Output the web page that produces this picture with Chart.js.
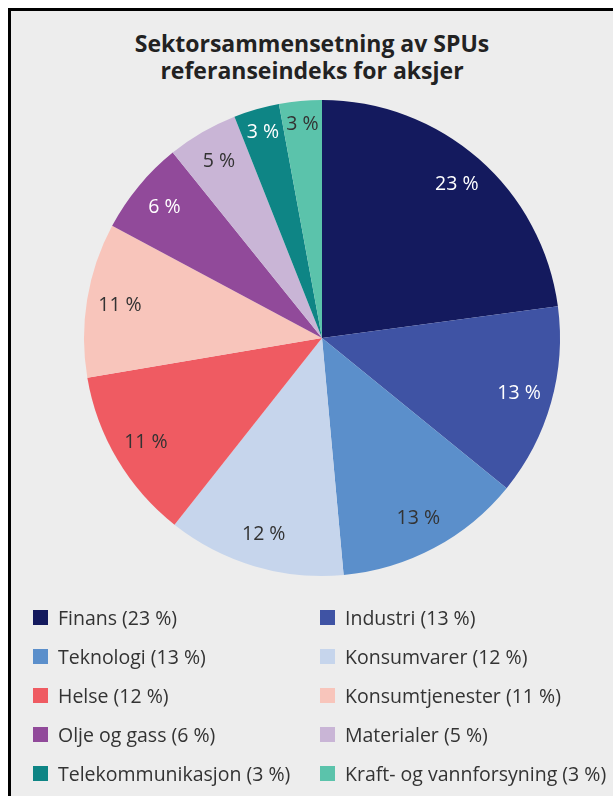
<!DOCTYPE html>
<html lang="no">
<head>
<meta charset="utf-8">
<script src="https://cdn.jsdelivr.net/npm/chart.js@4"></script>
<style>
  html, body { margin: 0; padding: 0; background: #ffffff; }
  body { width: 613px; height: 796px; position: relative; overflow: hidden; font-family: "Open Sans", sans-serif; }
  #frame {
    position: absolute; left: 8px; top: 8px; width: 605px; height: 788px;
    border-left: 3px solid #000; border-top: 3px solid #000;
    background: #ededed; box-sizing: border-box;
  }
  #title {
    position: absolute; left: 0; top: 30px; width: 624px; text-align: center;
    font-size: 23px; font-weight: bold; line-height: 27px; color: #222;
  }
  #chart { position: absolute; left: 0; top: 0; }
  #legend {
    position: absolute; left: 33px; top: 598px; width: 580px;
    display: grid; grid-template-columns: 287px 293px;
  }
  .item { display: flex; align-items: center; height: 39px; font-size: 19.5px; color: #333; white-space: nowrap; }
  .box { width: 15px; height: 15px; margin-right: 10px; flex: none; }
</style>
</head>
<body>
<div id="frame"></div>
<div id="title">Sektorsammensetning av SPUs<br>referanseindeks for aksjer</div>
<canvas id="chart" width="613" height="796"></canvas>
<div id="legend"></div>
<script>
// Sektorer og andeler (lest av figuren)
const sectors = ['Finans', 'Industri', 'Teknologi', 'Konsumvarer', 'Helse',
                 'Konsumtjenester', 'Olje og gass', 'Materialer', 'Telekommunikasjon', 'Kraft- og vannforsyning'];
const shares = [22.9, 13.0, 12.7, 12.1, 11.7, 10.5, 6.4, 4.8, 3.1, 2.9];
const sliceLabels = ['23 %', '13 %', '13 %', '12 %', '11 %', '11 %', '6 %', '5 %', '3 %', '3 %'];
const legendValues = ['23 %', '13 %', '13 %', '12 %', '12 %', '11 %', '6 %', '5 %', '3 %', '3 %'];
const colors = ['#141a5e', '#3f53a4', '#5b8fcb', '#c6d5ec', '#ef5b62',
                '#f8c5bb', '#914a9a', '#c9b5d6', '#0e8585', '#5bc3ab'];
const labelColors = ['#fff', '#fff', '#333', '#333', '#333', '#333', '#fff', '#333', '#fff', '#333'];

// Prosenttekst inne i sektorene
const sliceText = {
    id: 'sliceText',
    afterDatasetsDraw(chart) {
        const ctx = chart.ctx;
        const meta = chart.getDatasetMeta(0);
        ctx.save();
        ctx.font = '19.5px "Open Sans"';
        ctx.textAlign = 'center';
        ctx.textBaseline = 'middle';
        meta.data.forEach((arc, i) => {
            const p = arc.getProps(['x', 'y', 'startAngle', 'endAngle', 'outerRadius']);
            const mid = (p.startAngle + p.endAngle) / 2;
            // små sektorer har teksten lenger ut
            const r = p.outerRadius * (shares[i] < 4 ? 0.9 : 0.86);
            ctx.fillStyle = labelColors[i];
            ctx.fillText(sliceLabels[i], p.x + Math.cos(mid) * r, p.y + Math.sin(mid) * r);
        });
        ctx.restore();
    }
};

new Chart(document.getElementById('chart'), {
    type: 'pie',
    data: {
        labels: sectors,
        datasets: [{
            data: shares,
            backgroundColor: colors,
            borderWidth: 0
        }]
    },
    options: {
        responsive: false,
        animation: false,
        layout: { padding: { top: 100, left: 84, right: 53, bottom: 220 } },
        plugins: {
            legend: { display: false },
            tooltip: { enabled: false }
        }
    },
    plugins: [sliceText]
});

// Forklaring i to kolonner
const legend = document.getElementById('legend');
sectors.forEach((name, i) => {
    const item = document.createElement('div');
    item.className = 'item';
    item.innerHTML = '<span class="box" style="background:' + colors[i] + '"></span>' +
        name + ' (' + legendValues[i] + ')';
    legend.appendChild(item);
});
</script>
</body>
</html>
